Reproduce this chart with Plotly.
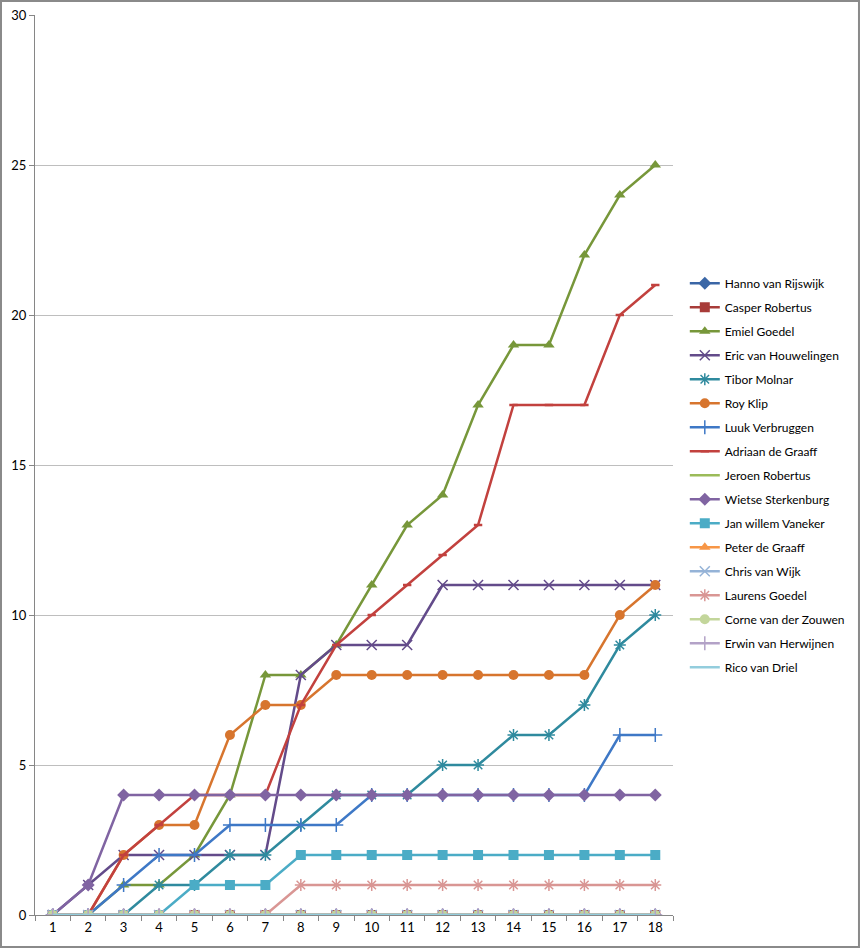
import plotly.graph_objects as go

# rounds 1..18
rounds = list(range(1, 19))

# cumulative score per player
hanno_van_rijswijk = [0] * 18
casper_robertus = [0] * 18
emiel_goedel = [0, 0, 1, 1, 2, 4, 8, 8, 9, 11, 13, 14, 17, 19, 19, 22, 24, 25]
eric_van_houwelingen = [0, 1, 2, 2, 2, 2, 2, 8, 9, 9, 9, 11, 11, 11, 11, 11, 11, 11]
tibor_molnar = [0, 0, 0, 1, 1, 2, 2, 3, 4, 4, 4, 5, 5, 6, 6, 7, 9, 10]
roy_klip = [0, 0, 2, 3, 3, 6, 7, 7, 8, 8, 8, 8, 8, 8, 8, 8, 10, 11]
luuk_verbruggen = [0, 0, 1, 2, 2, 3, 3, 3, 3, 4, 4, 4, 4, 4, 4, 4, 6, 6]
adriaan_de_graaff = [0, 0, 2, 3, 4, 4, 4, 7, 9, 10, 11, 12, 13, 17, 17, 17, 20, 21]
jeroen_robertus = [0] * 18
wietse_sterkenburg = [0, 1, 4, 4, 4, 4, 4, 4, 4, 4, 4, 4, 4, 4, 4, 4, 4, 4]
jan_willem_vaneker = [0, 0, 0, 0, 1, 1, 1, 2, 2, 2, 2, 2, 2, 2, 2, 2, 2, 2]
peter_de_graaff = [0] * 18
chris_van_wijk = [0] * 18
laurens_goedel = [0, 0, 0, 0, 0, 0, 0, 1, 1, 1, 1, 1, 1, 1, 1, 1, 1, 1]
corne_van_der_zouwen = [0] * 18
erwin_van_herwijnen = [0] * 18
rico_van_driel = [0] * 18

# name, values, colour, marker symbol
series = [
    ("Hanno van Rijswijk", hanno_van_rijswijk, "#3A66A6", "diamond"),
    ("Casper Robertus", casper_robertus, "#A83C39", "square"),
    ("Emiel Goedel", emiel_goedel, "#77973A", "triangle-up"),
    ("Eric van Houwelingen", eric_van_houwelingen, "#634B8A", "x-thin"),
    ("Tibor Molnar", tibor_molnar, "#2F8A9E", "asterisk"),
    ("Roy Klip", roy_klip, "#D7752E", "circle"),
    ("Luuk Verbruggen", luuk_verbruggen, "#3E78C6", "cross-thin"),
    ("Adriaan de Graaff", adriaan_de_graaff, "#C2413E", "line-ew"),
    ("Jeroen Robertus", jeroen_robertus, "#9BBB59", None),
    ("Wietse Sterkenburg", wietse_sterkenburg, "#8064A2", "diamond"),
    ("Jan willem Vaneker", jan_willem_vaneker, "#4BACC6", "square"),
    ("Peter de Graaff", peter_de_graaff, "#F79646", "triangle-up"),
    ("Chris van Wijk", chris_van_wijk, "#95B3D7", "x-thin"),
    ("Laurens Goedel", laurens_goedel, "#D99694", "asterisk"),
    ("Corne van der Zouwen", corne_van_der_zouwen, "#C3D69B", "circle"),
    ("Erwin van Herwijnen", erwin_van_herwijnen, "#B3A2C7", "cross-thin"),
    ("Rico van Driel", rico_van_driel, "#93CDDD", None),
]

fig = go.Figure()
for name, values, color, symbol in series:
    if symbol is None:
        mode = "lines"
        marker = None
    elif symbol in ("x-thin", "cross-thin", "asterisk", "line-ew"):
        mode = "lines+markers"
        marker = dict(symbol=symbol, size=10 if symbol != "line-ew" else 6,
                      color=color, line=dict(color=color, width=1.5 if symbol != "line-ew" else 2.5))
    else:
        mode = "lines+markers"
        marker = dict(symbol=symbol, size=10, color=color, line=dict(width=0))
    fig.add_trace(go.Scatter(x=rounds, y=values, name=name, mode=mode,
                             line=dict(color=color, width=2.5),
                             marker=marker, legendgroup=name))

# outer border of the chart area
fig.add_shape(type="rect", xref="paper", yref="paper",
              x0=-0.0533, x1=1.2915, y0=-0.0356, y1=1.0156,
              line=dict(color="#8A8A8A", width=2), layer="above")

fig.update_layout(
    width=860, height=949,
    margin=dict(l=35, r=187, t=15, b=34, autoexpand=False),
    paper_bgcolor="white", plot_bgcolor="white",
    font=dict(family="Lato", size=13, color="#000000"),
    showlegend=True,
    legend=dict(x=1.0185, y=0.718, xanchor="left", yanchor="top",
                font=dict(size=12), tracegroupgap=5, itemwidth=30,
                bgcolor="rgba(0,0,0,0)"),
    xaxis=dict(range=[0.5, 18.5], tickmode="array", tickvals=rounds,
               ticks="", showgrid=False, showline=True, linecolor="#868686",
               linewidth=1, zeroline=False, automargin=False,
               minor=dict(tick0=0.5, dtick=1, ticks="outside", ticklen=5,
                          tickcolor="#868686", showgrid=False)),
    yaxis=dict(range=[0, 30], dtick=5, ticks="outside", ticklen=5,
               tickcolor="#868686", showgrid=True, gridcolor="#BEBEBE",
               gridwidth=1, showline=True, linecolor="#868686", linewidth=1,
               zeroline=False, automargin=False),
)

# drop the page's default body margin so the figure starts at the window corner
fig.write_html("out.html", config={"displayModeBar": False},
               post_script="document.body.style.margin='0';")
